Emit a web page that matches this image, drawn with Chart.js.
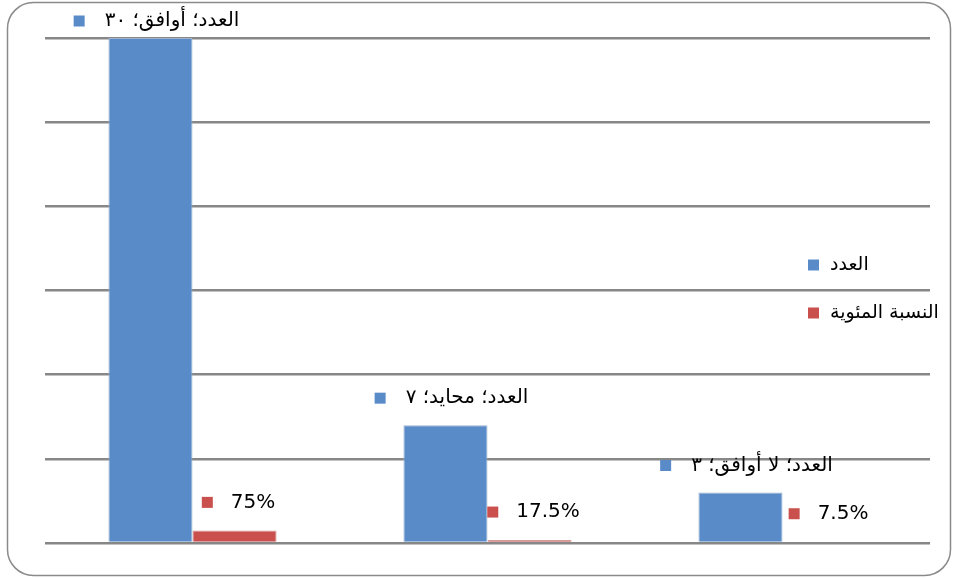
<!DOCTYPE html>
<html lang="ar">
<head>
<meta charset="utf-8">
<script src="https://cdn.jsdelivr.net/npm/chart.js@4/dist/chart.umd.min.js"></script>
<style>
  html, body { margin: 0; padding: 0; background: #fff; }
  #wrap { width: 957px; height: 578px; position: relative; }
</style>
</head>
<body>
<div id="wrap"><canvas id="chart"></canvas></div>
<script>
const categories = ["أوافق", "محايد", "لا أوافق"];
const countName = "العدد";
const pctName = "النسبة المئوية";
const countValues = [30, 7, 3];
const pctValues = [0.75, 0.175, 0.075];
const yTicks = [0, 5, 10, 15, 20, 25, 30];

const BLUE = "#5A8BC9";
const RED = "#C9504D";
const ARABIC_FONT = '20px "DejaVu Sans", "Noto Sans", sans-serif';
const LEGEND_FONT = '19px "DejaVu Sans", "Noto Sans", sans-serif';
const PCT_FONT = '20px "DejaVu Sans", sans-serif';

const toArabicDigits = (n) =>
  String(n).replace(/[0-9]/g, (d) => "٠١٢٣٤٥٦٧٨٩"[Number(d)]);

const frame = {
  id: "frame",
  beforeDraw(chart) {
    const ctx = chart.ctx;
    ctx.save();
    ctx.fillStyle = "#fff";
    ctx.fillRect(0, 0, chart.width, chart.height);
    ctx.strokeStyle = "#8a8a8a";
    ctx.lineWidth = 1.5;
    ctx.beginPath();
    ctx.roundRect(7.5, 2.5, 943, 573, 26);
    ctx.stroke();
    ctx.restore();
  }
};

const drawKeyed = (ctx, color, text, font, cx, cy, rtl) => {
  ctx.font = font;
  const w = ctx.measureText(text).width;
  const sq = 11, gap = rtl ? 20 : 18;
  const total = sq + gap + w;
  const left = cx - total / 2;
  ctx.fillStyle = color;
  ctx.fillRect(left, cy - sq / 2, sq, sq);
  ctx.fillStyle = "#000";
  ctx.textBaseline = "middle";
  ctx.textAlign = "left";
  ctx.direction = rtl ? "rtl" : "ltr";
  ctx.fillText(text, left + sq + gap, cy);
};

const labels = {
  id: "labels",
  afterDatasetsDraw(chart) {
    const ctx = chart.ctx;
    ctx.save();
    chart.getDatasetMeta(0).data.forEach((bar, i) => {
      const text = countName + "؛ " + categories[i] + "؛ " + toArabicDigits(countValues[i]);
      const y = Math.max(bar.y - 27, 21);
      drawKeyed(ctx, BLUE, text, ARABIC_FONT, bar.x + 6, y, true);
    });
    chart.getDatasetMeta(1).data.forEach((bar, i) => {
      const text = +(pctValues[i] * 100).toFixed(1) + "%";
      drawKeyed(ctx, RED, text, PCT_FONT, bar.x + 4, bar.y - 28, false);
    });

    // legend
    [[BLUE, countName, 265], [RED, pctName, 313]].forEach(([color, name, y]) => {
      ctx.fillStyle = color;
      ctx.fillRect(808, y - 5.5, 11, 11);
      ctx.fillStyle = "#000";
      ctx.font = LEGEND_FONT;
      ctx.textBaseline = "middle";
      ctx.textAlign = "left";
      ctx.direction = "rtl";
      ctx.fillText(name, 830, y);
    });
    ctx.restore();
  }
};

new Chart(document.getElementById("chart"), {
  type: "bar",
  data: {
    labels: categories,
    datasets: [
      { label: countName, data: countValues, backgroundColor: BLUE, borderColor: "#9fb4cf", borderWidth: 1 },
      { label: pctName, data: pctValues, backgroundColor: RED, borderColor: "#d29a98", borderWidth: 1 }
    ]
  },
  options: {
    responsive: true,
    maintainAspectRatio: false,
    animation: false,
    events: [],
    layout: { padding: { top: 38, right: 27, bottom: 35, left: 45 } },
    datasets: { bar: { barPercentage: 1, categoryPercentage: 0.57 } },
    plugins: { legend: { display: false }, tooltip: { enabled: false } },
    scales: {
      x: { display: false },
      y: {
        min: 0,
        max: 30,
        afterBuildTicks: (axis) => { axis.ticks = yTicks.map((v) => ({ value: v })); },
        ticks: { display: false },
        grid: { color: "#878787", lineWidth: 2.5, drawTicks: false },
        border: { display: false }
      }
    }
  },
  plugins: [frame, labels]
});
</script>
</body>
</html>
